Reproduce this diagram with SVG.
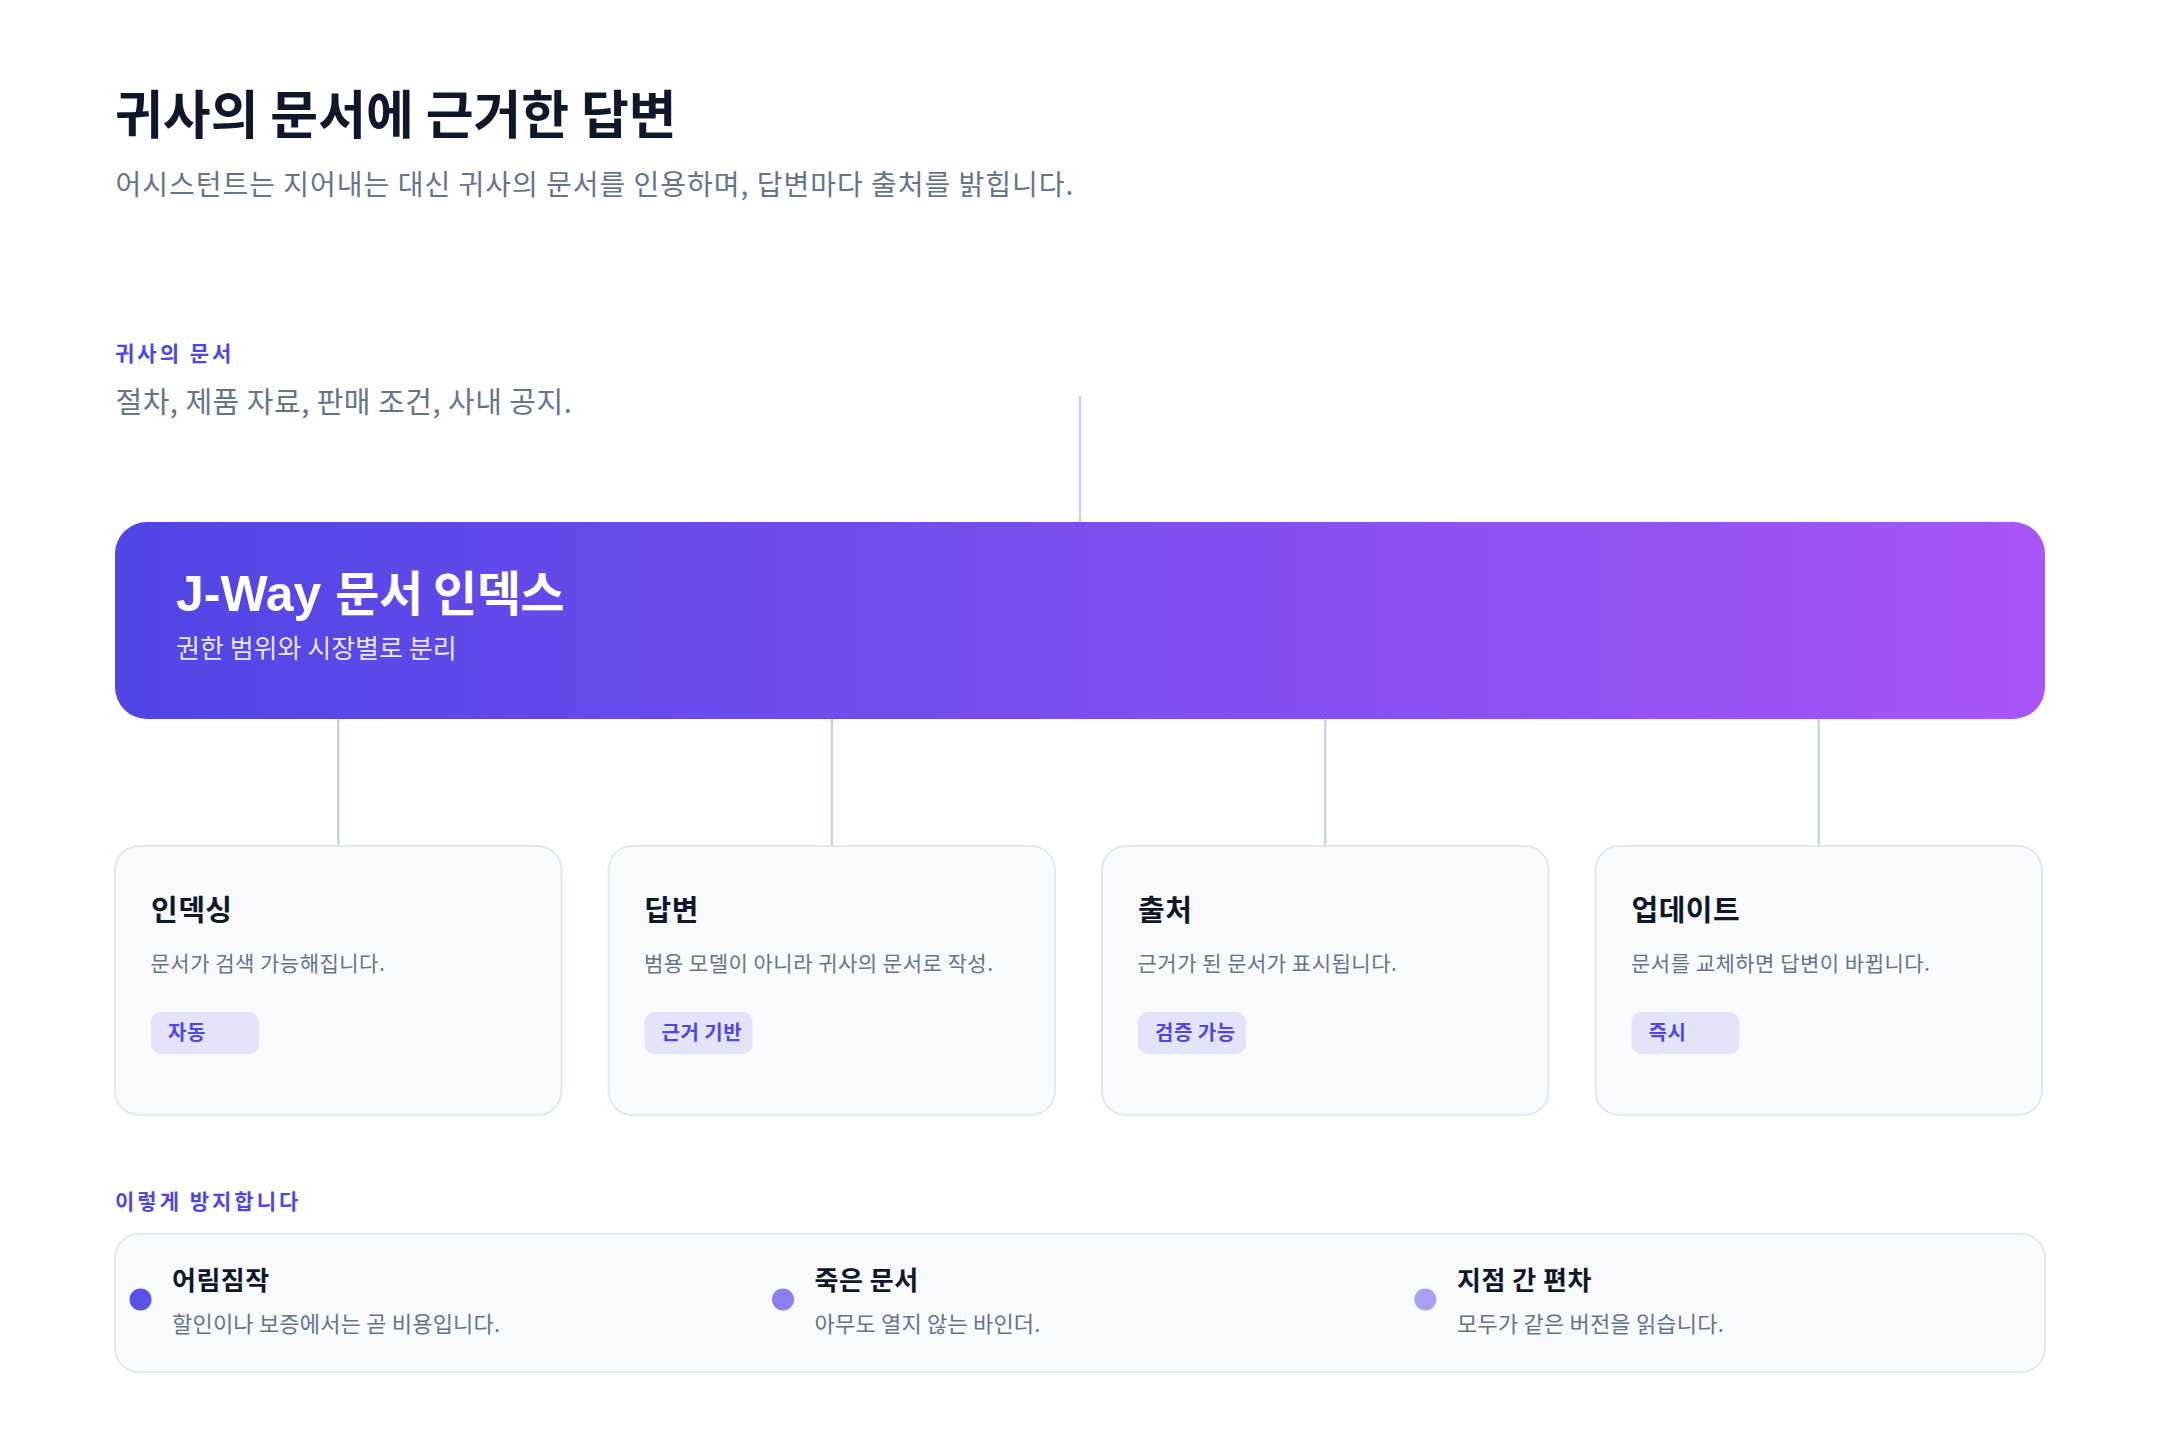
<svg xmlns="http://www.w3.org/2000/svg" width="2160" height="1440" viewBox="0 0 2160 1440">
  <defs>
    <linearGradient id="barGrad" x1="0" y1="0" x2="1" y2="0">
      <stop offset="0" stop-color="#4f46e5"/>
      <stop offset="1" stop-color="#a855f7"/>
    </linearGradient>
    <style>
      .kr { font-family: "Noto Sans CJK KR", "Noto Sans", sans-serif; }
      .h1 { font-size: 52px; font-weight: 700; fill: #0f172a; letter-spacing: 0px; }
      .sub { font-size: 28px; font-weight: 400; fill: #64748b; letter-spacing: 1px; }
      .eyebrow { font-size: 21px; font-weight: 700; fill: #4f46e5; letter-spacing: 3px; }
      .body { font-size: 29px; font-weight: 400; fill: #64748b; letter-spacing: 0.5px; }
      .card { fill: #f8fafc; stroke: #e2e8f0; stroke-width: 2; }
      .ctitle { font-size: 29px; font-weight: 700; fill: #0f172a; letter-spacing: 0.5px; }
      .cdesc { font-size: 21px; font-weight: 400; fill: #64748b; letter-spacing: 0.5px; }
      .tag { fill: #e4e3f9; }
      .tagt { font-size: 20px; font-weight: 700; fill: #4f46e5; letter-spacing: 0.5px; }
      .ititle { font-size: 26px; font-weight: 700; fill: #0f172a; letter-spacing: 0.5px; }
      .idesc { font-size: 22px; font-weight: 400; fill: #64748b; letter-spacing: 0.2px; }
      .conn { stroke: #cbd5e1; stroke-width: 2.5; fill: none; }
    </style>
  </defs>
  <rect width="2160" height="1440" fill="#ffffff"/>

  <g id="header">
    <text class="kr h1" x="115" y="134">귀사의 문서에 근거한 답변</text>
    <text class="kr sub" x="115.5" y="195">어시스턴트는 지어내는 대신 귀사의 문서를 인용하며, 답변마다 출처를 밝힙니다.</text>
  </g>

  <g id="sources">
    <text class="kr eyebrow" x="115" y="361">귀사의 문서</text>
    <text class="kr body" x="115.5" y="413">절차, 제품 자료, 판매 조건, 사내 공지.</text>
  </g>

  <g id="connectors">
    <line class="conn" x1="1080" y1="396" x2="1080" y2="522"/>
    <line class="conn" x1="338.25" y1="719" x2="338.25" y2="846"/>
    <line class="conn" x1="831.75" y1="719" x2="831.75" y2="846"/>
    <line class="conn" x1="1325.25" y1="719" x2="1325.25" y2="846"/>
    <line class="conn" x1="1818.75" y1="719" x2="1818.75" y2="846"/>
  </g>

  <g id="index">
    <rect x="115" y="522" width="1930" height="197" rx="32" ry="32" fill="url(#barGrad)"/>
    <text x="176" y="611" font-weight="700" fill="#ffffff"><tspan font-family="'Liberation Sans', Arial, sans-serif" font-size="50">J-Way </tspan><tspan font-family="'Noto Sans CJK KR', sans-serif" font-size="48" letter-spacing="-0.5">문서 인덱스</tspan></text>
    <text class="kr" x="176" y="658" font-size="26" fill="#ffffff" fill-opacity="0.88">권한 범위와 시장별로 분리</text>
  </g>

  <g id="card-indexing">
    <rect class="card" x="115" y="846" width="446.5" height="269" rx="24" ry="24"/>
    <text class="kr ctitle" x="151" y="921">인덱싱</text>
    <text class="kr cdesc" x="150.5" y="971">문서가 검색 가능해집니다.</text>
    <rect class="tag" x="151" y="1012" width="108" height="42" rx="10" ry="10"/>
    <text class="kr tagt" x="168" y="1040">자동</text>
  </g>

  <g id="card-answer">
    <rect class="card" x="608.5" y="846" width="446.5" height="269" rx="24" ry="24"/>
    <text class="kr ctitle" x="644.5" y="921">답변</text>
    <text class="kr cdesc" x="644" y="971">범용 모델이 아니라 귀사의 문서로 작성.</text>
    <rect class="tag" x="644.5" y="1012" width="108" height="42" rx="10" ry="10"/>
    <text class="kr tagt" x="661.5" y="1040">근거 기반</text>
  </g>

  <g id="card-source">
    <rect class="card" x="1102" y="846" width="446.5" height="269" rx="24" ry="24"/>
    <text class="kr ctitle" x="1138" y="921">출처</text>
    <text class="kr cdesc" x="1137.5" y="971">근거가 된 문서가 표시됩니다.</text>
    <rect class="tag" x="1138" y="1012" width="108" height="42" rx="10" ry="10"/>
    <text class="kr tagt" x="1155" y="1040">검증 가능</text>
  </g>

  <g id="card-update">
    <rect class="card" x="1595.5" y="846" width="446.5" height="269" rx="24" ry="24"/>
    <text class="kr ctitle" x="1631.5" y="921">업데이트</text>
    <text class="kr cdesc" x="1631" y="971">문서를 교체하면 답변이 바뀝니다.</text>
    <rect class="tag" x="1631.5" y="1012" width="108" height="42" rx="10" ry="10"/>
    <text class="kr tagt" x="1648.5" y="1040">즉시</text>
  </g>

  <g id="prevention">
    <text class="kr eyebrow" x="115" y="1209">이렇게 방지합니다</text>
    <rect class="card" x="115" y="1234" width="1930" height="138" rx="24" ry="24"/>
    <g id="item-guess">
      <circle cx="140.5" cy="1299.5" r="11" fill="#5a51e6"/>
      <text class="kr ititle" x="172" y="1290">어림짐작</text>
      <text class="kr idesc" x="172" y="1331.5">할인이나 보증에서는 곧 비용입니다.</text>
    </g>
    <g id="item-dead">
      <circle cx="783" cy="1299.5" r="11" fill="#8880ee"/>
      <text class="kr ititle" x="814.5" y="1290">죽은 문서</text>
      <text class="kr idesc" x="814.5" y="1331.5">아무도 열지 않는 바인더.</text>
    </g>
    <g id="item-drift">
      <circle cx="1425.3" cy="1299.5" r="11" fill="#a6a1f2"/>
      <text class="kr ititle" x="1457" y="1290">지점 간 편차</text>
      <text class="kr idesc" x="1457" y="1331.5">모두가 같은 버전을 읽습니다.</text>
    </g>
  </g>
</svg>
